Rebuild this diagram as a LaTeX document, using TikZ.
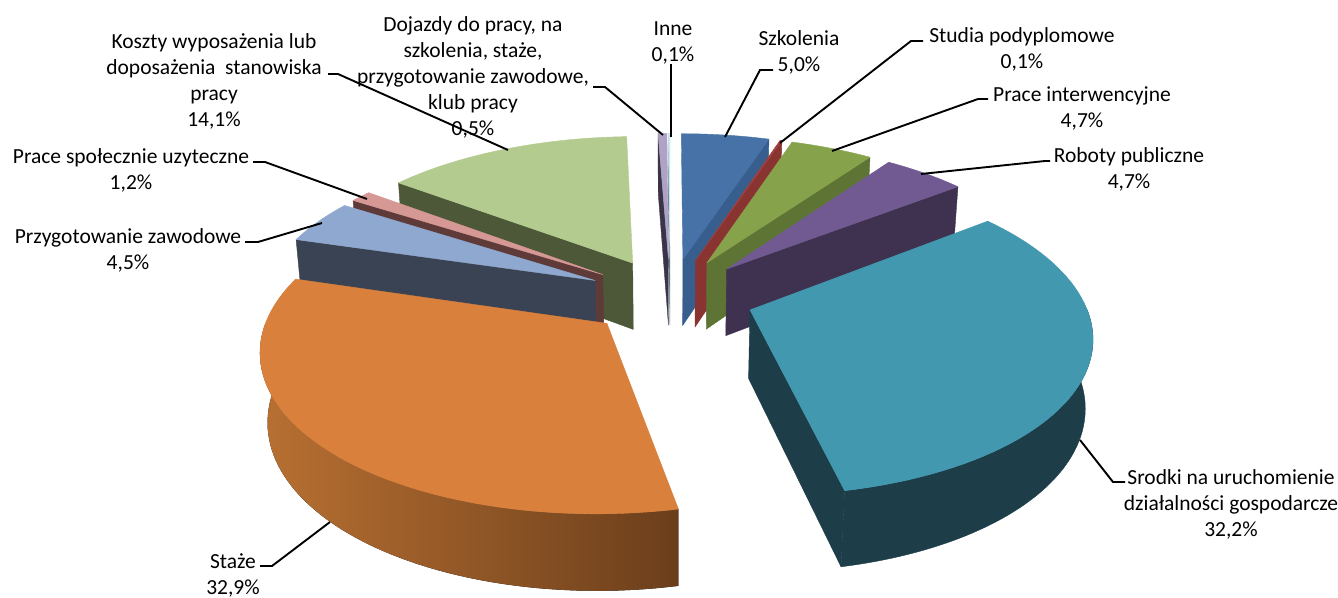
\documentclass[tikz,border=0pt]{standalone}
\usepackage{fontspec}
\setmainfont{Carlito}

\definecolor{szk}{HTML}{4672A8}
\definecolor{szkside}{HTML}{375E8C}
\definecolor{stud}{HTML}{A2403D}
\definecolor{studside}{HTML}{8A3432}
\definecolor{pint}{HTML}{86A34B}
\definecolor{pintside}{HTML}{5D7434}
\definecolor{rob}{HTML}{705A91}
\definecolor{robside}{HTML}{3F3150}
\definecolor{srod}{HTML}{4298AF}
\definecolor{srodside}{HTML}{1D3D49}
\definecolor{staz}{HTML}{D9803C}
\definecolor{stazleft}{HTML}{B87032}
\definecolor{stazright}{HTML}{6B3E1B}
\definecolor{przy}{HTML}{8EA8D0}
\definecolor{przyside}{HTML}{3A4353}
\definecolor{psp}{HTML}{D69894}
\definecolor{pspside}{HTML}{5E3A39}
\definecolor{kosz}{HTML}{B4CB90}
\definecolor{koszside}{HTML}{4C5838}
\definecolor{doj}{HTML}{AEA2C5}
\definecolor{dojside}{HTML}{3B3448}
\definecolor{inne}{HTML}{CDE8F0}
\definecolor{inneside}{HTML}{5A7E88}

% slice centre, pushed out along the middle angle
\newcommand\setslice[2]{%
  \pgfmathsetmacro\om{(#1+#2)/2}%
  \pgfmathsetmacro\ox{0.252*sin(\om)}%
  \pgfmathsetmacro\oz{0.252*cos(\om)}}
% flat face along one radius
\newcommand\radface[2]{%
  \fill[face=#2] ({projx(\ox,\oz,0)},{projy(\ox,\oz,0)})
    -- ({projx(\ox+sin(#1),\oz+cos(#1),0)},{projy(\ox+sin(#1),\oz+cos(#1),0)})
    -- ({projx(\ox+sin(#1),\oz+cos(#1),-0.234)},{projy(\ox+sin(#1),\oz+cos(#1),-0.234)})
    -- ({projx(\ox,\oz,-0.234)},{projy(\ox,\oz,-0.234)}) -- cycle;}
% curved outer side
\newcommand\rimface[3]{%
  \fill[#3] plot[variable=\t,domain=#1:#2,samples=60]
      ({projx(\ox+sin(\t),\oz+cos(\t),0)},{projy(\ox+sin(\t),\oz+cos(\t),0)})
    -- plot[variable=\t,domain=#2:#1,samples=60]
      ({projx(\ox+sin(\t),\oz+cos(\t),-0.234)},{projy(\ox+sin(\t),\oz+cos(\t),-0.234)})
    -- cycle;}
% top of the slice
\newcommand\topface[3]{%
  \fill[face=#3] ({projx(\ox,\oz,0)},{projy(\ox,\oz,0)})
    -- plot[variable=\t,domain=#1:#2,samples=60]
      ({projx(\ox+sin(\t),\oz+cos(\t),0)},{projy(\ox+sin(\t),\oz+cos(\t),0)})
    -- cycle;}

\begin{document}
\begin{tikzpicture}[x=1pt,y=-1pt,
    declare function={
      projd(\X,\Z,\Y)=1+0.146*\Z-0.0762*\Y;
      projx(\X,\Z,\Y)=670.2+333*\X/projd(\X,\Z,\Y);
      projy(\X,\Z,\Y)=296.4-(295.2*\Y+154*\Z)/projd(\X,\Z,\Y);
    },
    face/.style={fill=#1,draw=#1,line width=0.4pt,line join=round},
    lbl/.style={align=center,inner sep=0pt,font=\fontsize{21.5}{26}\selectfont},
    leader/.style={draw=black,line width=1.9pt}]
  \useasboundingbox (0,0) rectangle (1338,597);

  % slices, back to front
  \setslice{359.64}{360}
  \radface{359.64}{inneside}
  \topface{359.64}{360}{inne}

  \setslice{357.84}{359.64}
  \radface{357.84}{dojside}
  \topface{357.84}{359.64}{doj}

  \setslice{0}{18}
  \radface{18}{szkside}
  \topface{0}{18}{szk}

  \setslice{307.08}{357.84}
  \radface{307.08}{koszside}
  \topface{307.08}{357.84}{kosz}

  \setslice{18}{18.36}
  \radface{18.36}{studside}
  \topface{18}{18.36}{stud}

  \setslice{18.36}{35.28}
  \radface{35.28}{pintside}
  \topface{18.36}{35.28}{pint}

  \setslice{302.76}{307.08}
  \radface{302.76}{pspside}
  \topface{302.76}{307.08}{psp}

  \setslice{35.28}{52.2}
  \radface{52.2}{robside}
  \topface{35.28}{52.2}{rob}

  \setslice{286.56}{302.76}
  \radface{286.56}{przyside}
  \topface{286.56}{302.76}{przy}

  \setslice{52.2}{168.12}
  \rimface{90}{168.12}{face=srodside}
  \radface{168.12}{srodside}
  \topface{52.2}{168.12}{srod}

  \setslice{168.12}{286.56}
  \rimface{168.12}{270}{left color=stazleft,right color=stazright}
  \topface{168.12}{286.56}{staz}

  % labels
  \node[lbl] (kosz) at (214,81) {Koszty wyposażenia lub\\doposażenia\ \ stanowiska\\pracy\\14,1\%};
  \node[lbl] (doj) at (473,77) {Dojazdy do pracy, na\\szkolenia, staże,\\przygotowanie zawodowe,\\klub pracy\\0,5\%};
  \node[lbl] (inne) at (673,43) {Inne\\0,1\%};
  \node[lbl] (szk) at (799,52) {Szkolenia\\5,0\%};
  \node[lbl] (stud) at (1022,49) {Studia podyplomowe\\0,1\%};
  \node[lbl] (pint) at (1082,108) {Prace interwencyjne\\4,7\%};
  \node[lbl] (rob) at (1129,169) {Roboty publiczne\\4,7\%};
  \node[lbl] (srod) at (1231,504) {Srodki na uruchomienie\\działalności gospodarcze\\32,2\%};
  \node[lbl] (staz) at (233,575) {Staże\\32,9\%};
  \node[lbl] (przy) at (128,250) {Przygotowanie zawodowe\\4,5\%};
  \node[lbl] (psp) at (131,170) {Prace społecznie uzyteczne\\1,2\%};

  % leader lines
  \coordinate (kosz-tip) at (508,150);
  \coordinate (kosz-bend) at (338,74);
  \coordinate (doj-tip) at (663,135);
  \coordinate (doj-bend) at (605,87);
  \coordinate (inne-tip) at (671,137);
  \coordinate (szk-tip) at (725,137);
  \coordinate (szk-bend) at (760,70);
  \coordinate (stud-tip) at (780,143);
  \coordinate (stud-bend) at (911,41);
  \coordinate (pint-tip) at (832,151);
  \coordinate (pint-bend) at (978,99);
  \coordinate (rob-tip) at (921,174);
  \coordinate (rob-bend) at (1045,161);
  \coordinate (srod-tip) at (1080,440);
  \coordinate (srod-bend) at (1113,482);
  \coordinate (staz-tip) at (330,522);
  \coordinate (staz-bend) at (272,566);
  \coordinate (przy-tip) at (322,223);
  \coordinate (przy-bend) at (258,242);
  \coordinate (psp-tip) at (367,199);
  \coordinate (psp-bend) at (265,162);

  \draw[leader] (kosz-tip) -- (kosz-bend) -- ++(-10,0);
  \draw[leader] (doj-tip) -- (doj-bend) -- ++(-12,0);
  \draw[leader] (inne-tip) -- (inne-tip |- inne.south);
  \draw[leader] (szk-tip) -- (szk-bend) -- ++(13,0);
  \draw[leader] (stud-tip) -- (stud-bend) -- ++(12,0);
  \draw[leader] (pint-tip) -- (pint-bend) -- ++(10,0);
  \draw[leader] (rob-tip) -- (rob-bend) -- ++(5,0);
  \draw[leader] (srod-tip) -- (srod-bend) -- ++(12,0);
  \draw[leader] (staz-tip) -- (staz-bend) -- ++(-12,0);
  \draw[leader] (przy-tip) -- (przy-bend) -- ++(-13,0);
  \draw[leader] (psp-tip) -- (psp-bend) -- ++(-12,0);
\end{tikzpicture}
\end{document}
